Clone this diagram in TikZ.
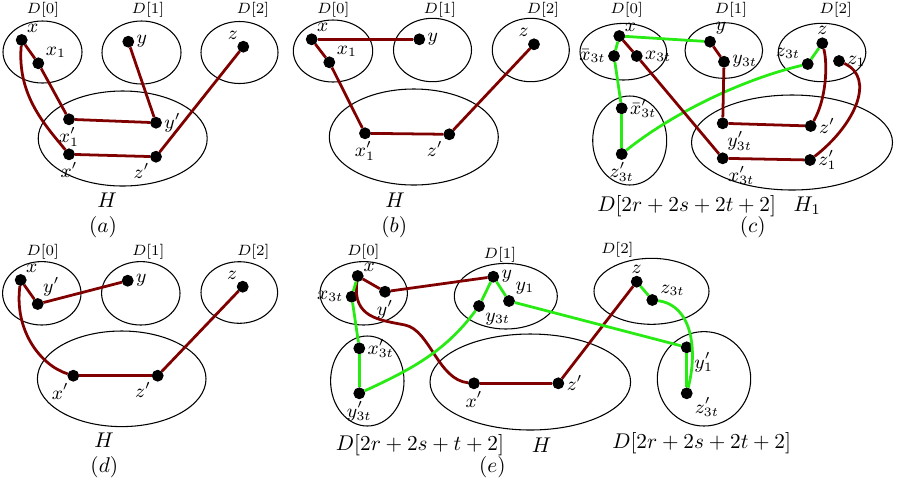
\documentclass[tikz,border=0pt]{standalone}
\definecolor{pathred}{RGB}{128,0,0}
\definecolor{pathgreen}{RGB}{40,235,20}
\begin{document}
\begin{tikzpicture}[x=0.0165cm,y=-0.0165cm]
      \tikzset{vertex/.style={draw, circle, inner sep=0pt, minimum size=.18cm, fill=black},
               lbl/.style={font=\small, inner sep=1pt},
               blob/.style={draw, line width=0.5pt},
               setname/.style={font=\scriptsize},
               caption/.style={font=\normalsize},
               redline/.style={draw=pathred, line width=1.3pt},
               greenline/.style={draw=pathgreen, line width=1.3pt}}
      \useasboundingbox (0,0) rectangle (897,481);
%% Sets
	%(a)
		\draw[blob] (42.5,52) ellipse [x radius=39.5, y radius=31];
		\draw[blob] (141.5,52.5) ellipse [x radius=39.5, y radius=31.5];
		\draw[blob] (239.5,52.5) ellipse [x radius=38.5, y radius=31];
		\draw[blob] (122.7,138.5) ellipse [x radius=84.5, y radius=47.5];
	%(b)
		\draw[blob] (333,51) ellipse [x radius=39.7, y radius=31];
		\draw[blob] (432.5,50) ellipse [x radius=39, y radius=31.7];
		\draw[blob] (530.8,50) ellipse [x radius=38.5, y radius=31.7];
		\draw[blob] (413.8,137) ellipse [x radius=84.5, y radius=48];
	%(c)
		\draw[blob] (623.3,51.7) ellipse [x radius=43.3, y radius=28.3];
		\draw[blob] (723.8,50.5) ellipse [x radius=38.8, y radius=27.8];
		\draw[blob] (822,52.5) ellipse [x radius=43.8, y radius=29.2];
		\draw[blob] (629.7,140.5) ellipse [x radius=37, y radius=44.5];
		\draw[blob] (792,142.5) ellipse [x radius=100.5, y radius=47.5];
	%(d)
		\draw[blob] (41.8,293.3) ellipse [x radius=39.2, y radius=31.7];
		\draw[blob] (140.8,293.3) ellipse [x radius=39.2, y radius=31.7];
		\draw[blob] (239.3,292.5) ellipse [x radius=38.3, y radius=30.8];
		\draw[blob] (121.7,378.8) ellipse [x radius=84.3, y radius=47.8];
	%(e)
		\draw[blob] (363.7,293.3) ellipse [x radius=43.7, y radius=31.7];
		\draw[blob] (505.8,296.2) ellipse [x radius=51.5, y radius=32.8];
		\draw[blob] (651.5,291.3) ellipse [x radius=57.5, y radius=33];
		\draw[blob] (367.3,381) ellipse [x radius=36.7, y radius=45];
		\draw[blob] (530.3,382) ellipse [x radius=100.3, y radius=48];
		\draw[blob] (704,378.8) ellipse [x radius=46.7, y radius=47.2];
%% Texts
		\node[setname] (aD0) at (43,10) {$D[0]$};
		\node[setname] (aD1) at (148,10) {$D[1]$};
		\node[setname] (aD2) at (253,10) {$D[2]$};
		\node[caption] (aH) at (107,200) {$H$};
		\node[caption] (acap) at (103,227) {$(a)$};
		\node[setname] (bD0) at (333.3,10) {$D[0]$};
		\node[setname] (bD1) at (440,10) {$D[1]$};
		\node[setname] (bD2) at (543,10) {$D[2]$};
		\node[caption] (bH) at (395,200) {$H$};
		\node[caption] (bcap) at (394.3,227) {$(b)$};
		\node[setname] (cD0) at (626.7,10) {$D[0]$};
		\node[setname] (cD1) at (731,10) {$D[1]$};
		\node[setname] (cD2) at (835.7,10) {$D[2]$};
		\node[caption] (cDbig) at (686.7,206) {$D[2r+2s+2t+2]$};
		\node[caption] (cH) at (807.3,206) {$H_1$};
		\node[caption] (ccap) at (752.7,227) {$(c)$};
		\node[setname] (dD0) at (42.7,251.7) {$D[0]$};
		\node[setname] (dD1) at (148.3,251.7) {$D[1]$};
		\node[setname] (dD2) at (253.3,251.7) {$D[2]$};
		\node[caption] (dH) at (104,440) {$H$};
		\node[caption] (dcap) at (104.3,467.3) {$(d)$};
		\node[setname] (eD0) at (363.3,251.7) {$D[0]$};
		\node[setname] (eD1) at (500,255) {$D[1]$};
		\node[setname] (eD2) at (617.3,250) {$D[2]$};
		\node[caption] (eDbigA) at (420,445) {$D[2r+2s+t+2]$};
		\node[caption] (eH) at (541.7,445) {$H$};
		\node[caption] (eDbigB) at (701.7,443.3) {$D[2r+2s+2t+2]$};
		\node[caption] (ecap) at (492.3,467.3) {$(e)$};
%% Vertices
	%(a)
		\node[vertex, label={[lbl]60:$x$}] (ax) at (21.7,40) {};
		\node[vertex, label={[lbl]30:$x_1$}] (ax1) at (38.3,63.3) {};
		\node[vertex, label={[lbl]right:$y$}] (ay) at (128.3,41.7) {};
		\node[vertex, label={[lbl]120:$z$}] (az) at (243.3,46.7) {};
		\node[vertex, label={[lbl]below:$x_1'$}] (ax1p) at (69,119.3) {};
		\node[vertex, label={[lbl]right:$y'$}] (ayp) at (156,122.7) {};
		\node[vertex, label={[lbl]below:$x'$}] (axp) at (69,154.3) {};
		\node[vertex, label={[lbl]below left:$z'$}] (azp) at (156,156.7) {};
	%(b)
		\node[vertex, label={[lbl]60:$x$}] (bx) at (311.7,39.3) {};
		\node[vertex, label={[lbl]30:$x_1$}] (bx1) at (329.3,62.3) {};
		\node[vertex, label={[lbl]right:$y$}] (by) at (419.3,39.3) {};
		\node[vertex, label={[lbl]120:$z$}] (bz) at (534,44.3) {};
		\node[vertex, label={[lbl]below:$x_1'$}] (bx1p) at (365,133.3) {};
		\node[vertex, label={[lbl]below left:$z'$}] (bzp) at (449.3,134.3) {};
	%(c)
		\node[vertex, label={[lbl,label distance=-1pt]35:$x$}] (cx) at (619.3,36) {};
		\node[vertex, label={[lbl]left:$\bar{x}_{3t}$}] (cxb) at (614,56) {};
		\node[vertex, label={[lbl]right:$x_{3t}$}] (cx3) at (636.7,56) {};
		\node[vertex, label={[lbl]60:$y$}] (cy) at (710,41.7) {};
		\node[vertex, label={[lbl]right:$y_{3t}$}] (cy3) at (724,61.7) {};
		\node[vertex, label={[lbl]above:$z$}] (cz) at (822.3,43.3) {};
		\node[vertex, label={[lbl]150:$z_{3t}$}] (cz3) at (807.7,64) {};
		\node[vertex, label={[lbl]right:$z_1$}] (cz1) at (839,61) {};
		\node[vertex, label={[lbl]right:$\bar{x}'_{3t}$}] (cxbp) at (621.7,108.3) {};
		\node[vertex, label={[lbl]below:$z'_{3t}$}] (cz3p) at (621.7,154) {};
		\node[vertex, label={[lbl]-70:$y'_{3t}$}] (cy3p) at (722.7,123.3) {};
		\node[vertex, label={[lbl]right:$z'$}] (czp) at (810.7,126) {};
		\node[vertex, label={[lbl]-60:$x'_{3t}$}] (cx3p) at (722.7,158.3) {};
		\node[vertex, label={[lbl]right:$z'_1$}] (cz1p) at (810,160) {};
	%(d)
		\node[vertex, label={[lbl]60:$x$}] (dx) at (20.7,280) {};
		\node[vertex, label={[lbl]60:$y'$}] (dyp) at (37.7,304) {};
		\node[vertex, label={[lbl]right:$y$}] (dy) at (127.7,280.7) {};
		\node[vertex, label={[lbl]120:$z$}] (dz) at (242.7,286.7) {};
		\node[vertex, label={[lbl]-110:$x'$}] (dxp) at (73.3,375.7) {};
		\node[vertex, label={[lbl]below left:$z'$}] (dzp) at (157.7,375.7) {};
	%(e)
		\node[vertex, label={[lbl,label distance=-1pt]30:$x$}] (ex) at (357.7,276) {};
		\node[vertex, label={[lbl]left:$x_{3t}$}] (ex3) at (351.7,296.7) {};
		\node[vertex, label={[lbl]below:$y'$}] (eyp) at (385,291.7) {};
		\node[vertex, label={[lbl]right:$y$}] (ey) at (493.3,276.7) {};
		\node[vertex, label={[lbl]-50:$y_{3t}$}] (ey3) at (479,306) {};
		\node[vertex, label={[lbl]45:$y_1$}] (ey1) at (509,301) {};
		\node[vertex, label={[lbl]above:$z$}] (ez) at (636.7,281.7) {};
		\node[vertex, label={[lbl]20:$z_{3t}$}] (ez3) at (652.3,300) {};
		\node[vertex, label={[lbl]right:$x'_{3t}$}] (ex3p) at (359.3,348.3) {};
		\node[vertex, label={[lbl]below:$y'_{3t}$}] (ey3p) at (359.3,393.3) {};
		\node[vertex, label={[lbl]below:$x'$}] (exp) at (474,383.3) {};
		\node[vertex, label={[lbl]right:$z'$}] (ezp) at (558.3,383.3) {};
		\node[vertex, label={[lbl]-30:$y'_1$}] (ey1p) at (686.7,347.3) {};
		\node[vertex, label={[lbl]-20:$z'_{3t}$}] (ez3p) at (686.7,393.3) {};
%Edges
	%(a)
		\path[redline] (ax) edge (ax1);
		\path[redline] (ax1) edge (ax1p);
		\path[redline] (ax1p) edge (ayp);
		\path[redline] (ayp) edge (ay);
		\draw[redline] (ax) .. controls (17,95) and (45,125) .. (axp);
		\path[redline] (axp) edge (azp);
		\path[redline] (azp) edge (az);
	%(b)
		\path[redline] (bx) edge (by);
		\path[redline] (bx) edge (bx1);
		\path[redline] (bx1) edge (bx1p);
		\path[redline] (bx1p) edge (bzp);
		\path[redline] (bzp) edge (bz);
	%(c)
		\path[greenline] (cx) edge (cy);
		\path[greenline] (cx) edge (cxb);
		\path[greenline] (cxb) edge (cxbp);
		\path[greenline] (cxbp) edge (cz3p);
		\draw[greenline] (cz3p) .. controls (670,115) and (740,80) .. (cz3);
		\path[greenline] (cz3) edge (cz);
		\path[redline] (cx) edge (cx3);
		\path[redline] (cx3) edge (cx3p);
		\path[redline] (cx3p) edge (cz1p);
		\draw[redline] (cz1p) .. controls (855,125) and (876,78) .. (cz1);
		\path[redline] (cy) edge (cy3);
		\path[redline] (cy3) edge (cy3p);
		\path[redline] (cy3p) edge (czp);
		\draw[redline] (czp) .. controls (826,100) and (828,65) .. (cz);
	%(d)
		\path[redline] (dx) edge (dyp);
		\path[redline] (dyp) edge (dy);
		\draw[redline] (dx) .. controls (14,330) and (40,365) .. (dxp);
		\path[redline] (dxp) edge (dzp);
		\path[redline] (dzp) edge (dz);
	%(e)
		\path[redline] (ex) edge (eyp);
		\path[redline] (eyp) edge (ey);
		\draw[redline] (ex) .. controls (352,318) and (380,320) .. (405,325)
			.. controls (430,330) and (438,380) .. (exp);
		\path[redline] (exp) edge (ezp);
		\path[redline] (ezp) edge (ez);
		\path[greenline] (ex) edge (ex3);
		\path[greenline] (ex3) edge (ex3p);
		\path[greenline] (ex3p) edge (ey3p);
		\draw[greenline] (ey3p) .. controls (410,370) and (445,352) .. (ey3);
		\path[greenline] (ey3) edge (ey);
		\path[greenline] (ey) edge (ey1);
		\path[greenline] (ey1) edge (ey1p);
		\path[greenline] (ey1p) edge (ez3p);
		\draw[greenline] (ez3p) .. controls (698,350) and (692,305) .. (ez3);
		\path[greenline] (ez3) edge (ez);

\end{tikzpicture}
\end{document}
